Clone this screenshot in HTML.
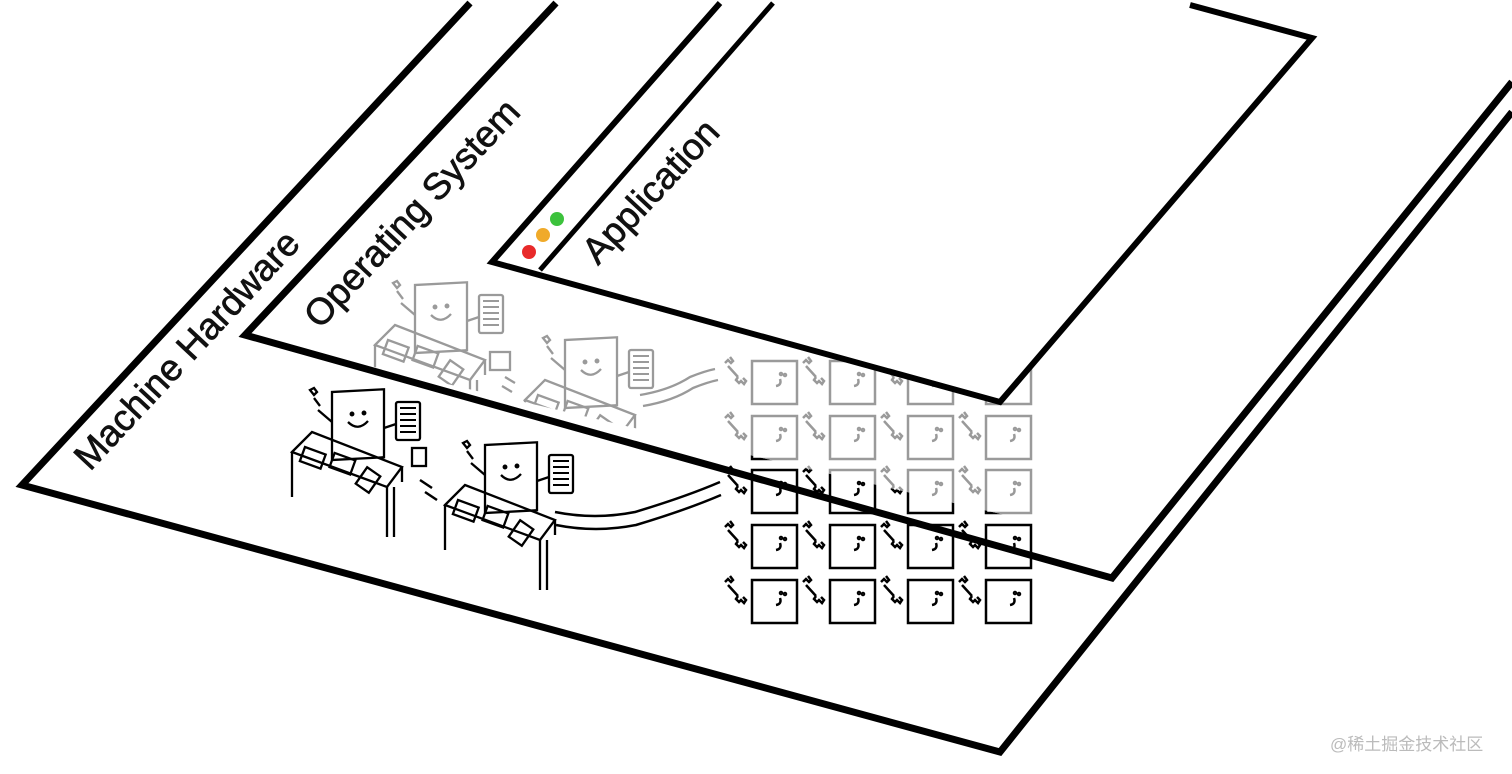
<!DOCTYPE html>
<html><head><meta charset="utf-8"><style>
html,body{margin:0;padding:0;background:#fff;width:1512px;height:774px;overflow:hidden}
svg{display:block}
text{font-family:"Liberation Sans","DejaVu Sans",sans-serif}
</style></head><body>
<svg width="1512" height="774" viewBox="0 0 1512 774" xmlns="http://www.w3.org/2000/svg">
<defs>
<clipPath id="below"><polygon points="0,279 1512,634 1512,774 0,774"/></clipPath>
<clipPath id="above"><polygon points="0,0 1512,0 1512,634 0,279"/></clipPath>
<g id="wrench" fill="none" stroke-width="2.5">
<path d="M-12,-10 l3,-3 l3,3 l2,-2 l-3,-4 M-9,-7 l10,11 M1,4 l-2,3 l3,3 l2,-2 l3,3 l2,-3 l-3,-3"/>
</g>
<g id="cell" fill="none" stroke-width="2.5">
<rect x="0" y="0" width="45" height="43"/>
<use href="#wrench" x="-15" y="12"/>
<path d="M28,18 q2,6 -4,7" /><circle cx="29" cy="13" r="1"/><circle cx="33" cy="14" r="1"/>
</g>
<g id="person" fill="none" stroke-width="2.3">
<rect x="0" y="0" width="52" height="68" transform="skewY(-3)"/>
<circle cx="20" cy="22" r="1.3"/><circle cx="32" cy="21" r="1.3"/>
<path d="M16,30 q10,10 20,-1"/>
<path d="M0,30 l-14,-12"/><path d="M-22,-2 l4,-2 l3,4 l-3,3 z M-18,6 l6,8"/>
<path d="M52,36 l12,-4"/>
<rect x="64" y="10" width="24" height="38" rx="2"/>
<path d="M68,16 h16 M68,22 h16 M68,28 h16 M68,34 h16 M68,40 h16" stroke-width="2"/>
<polygon points="-40,60 -20,40 70,75 55,95 -40,60"/>
<path d="M-40,60 v45 M55,95 v50 M62,95 v50 M70,75 v15"/>
<rect x="-30" y="58" width="22" height="15" transform="rotate(20 -20 65)"/>
<rect x="0" y="64" width="22" height="15" transform="rotate(20 10 70)"/>
<rect x="28" y="78" width="16" height="20" transform="rotate(35 36 88)"/>
</g>
</defs>

<!-- Hardware plane -->
<polyline points="470,3 22,485 1000,752 1512,112" fill="none" stroke="#000" stroke-width="7" stroke-linejoin="miter"/>
<text x="0" y="0" font-size="37" stroke="#111" stroke-width="0.7" transform="translate(90,472) rotate(-47)" fill="#111">Machine Hardware</text>

<g stroke="#000" clip-path="url(#below)">
<g id="grid">
<use href="#cell" x="752" y="361"/><use href="#cell" x="830" y="361"/><use href="#cell" x="908" y="361"/><use href="#cell" x="986" y="361"/>
<use href="#cell" x="752" y="416"/><use href="#cell" x="830" y="416"/><use href="#cell" x="908" y="416"/><use href="#cell" x="986" y="416"/>
<use href="#cell" x="752" y="470"/><use href="#cell" x="830" y="470"/><use href="#cell" x="908" y="470"/><use href="#cell" x="986" y="470"/>
<use href="#cell" x="752" y="525"/><use href="#cell" x="830" y="525"/><use href="#cell" x="908" y="525"/><use href="#cell" x="986" y="525"/>
<use href="#cell" x="752" y="580"/><use href="#cell" x="830" y="580"/><use href="#cell" x="908" y="580"/><use href="#cell" x="986" y="580"/>
</g>
<use href="#person" x="332" y="392"/>
<use href="#person" x="485" y="445"/>
<path d="M555,512 q40,8 80,0 q50,-15 85,-30 M556,525 q40,8 80,0 q50,-15 85,-30" fill="none" stroke-width="2.5"/>
<path d="M420,480 l12,8 M425,492 l12,8" stroke-width="2.5"/>
<rect x="412" y="448" width="14" height="18" fill="none" stroke-width="2.3"/>
</g>
<g stroke="#9a9a9a" clip-path="url(#above)">
<use href="#grid"/>
<use href="#person" x="415" y="285"/>
<use href="#person" x="565" y="340"/>
<path d="M640,395 q30,-5 50,-18 q15,-6 25,-8 M643,406 q30,-5 50,-18 q15,-6 25,-8" fill="none" stroke-width="2.3"/>
<rect x="490" y="352" width="20" height="18" fill="none" stroke-width="2.3"/>
<path d="M505,377 l10,6 M502,386 l10,6" stroke-width="2.3"/>
</g>

<!-- OS plane -->
<polyline points="556,3 245,335 1112,578 1512,82" fill="none" stroke="#000" stroke-width="7" stroke-linejoin="miter"/>
<text x="0" y="0" font-size="37" stroke="#111" stroke-width="0.7" transform="translate(320,330) rotate(-47)" fill="#111">Operating System</text>

<!-- App plane -->
<polygon points="720,3 492,262 1000,402 1312,38 1190,3" fill="#fff" stroke="none"/>
<polyline points="720,3 492,262 1000,402 1312,38 1190,5" fill="none" stroke="#000" stroke-width="6" stroke-linejoin="miter"/>
<line x1="540" y1="270" x2="773" y2="3" stroke="#000" stroke-width="5"/>
<circle cx="529" cy="252" r="7" fill="#e82a2a"/>
<circle cx="543" cy="235" r="7" fill="#f0aa2a"/>
<circle cx="557" cy="219" r="7" fill="#3cc23c"/>
<text x="0" y="0" font-size="37" stroke="#111" stroke-width="0.7" transform="translate(598,266) rotate(-47)" fill="#111">Application</text>

<text x="1330" y="750" font-size="17" fill="#bbb" font-family="Liberation Sans, Noto Sans CJK SC, sans-serif">@稀土掘金技术社区</text>
</svg>
</body></html>
